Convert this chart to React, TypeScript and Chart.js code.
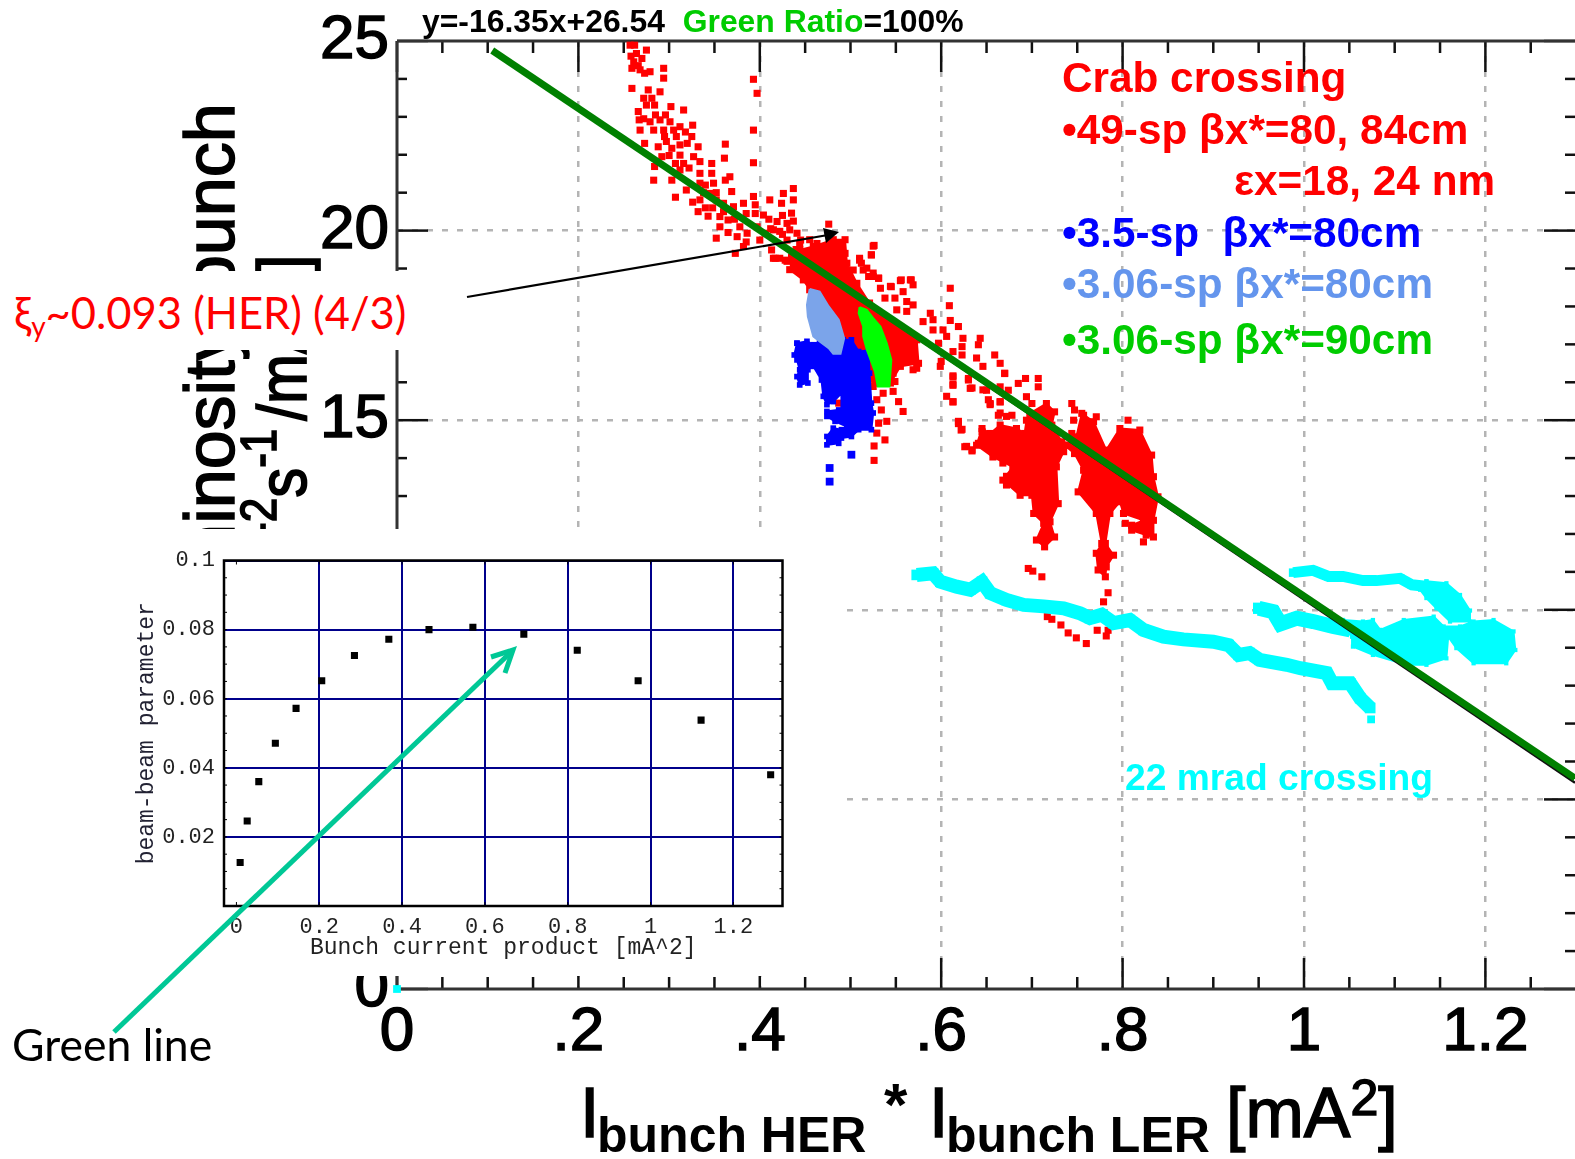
import React, { useEffect, useRef } from "react";
import { Chart, registerables } from "chart.js";

Chart.register(...registerables);

const xMajorTicks = [0, 0.2, 0.4, 0.6, 0.8, 1, 1.2];
const xTickLabels = ["0", ".2", ".4", ".6", ".8", "1", "1.2"];
const xMinorTicks = [0.05, 0.1, 0.15, 0.25, 0.3, 0.35, 0.45, 0.5, 0.55, 0.65, 0.7, 0.75, 0.85, 0.9, 0.95, 1.05, 1.1, 1.15, 1.25];
const yMajorTicks = [0, 5, 10, 15, 20, 25];
const yMinorTicks = [1, 2, 3, 4, 6, 7, 8, 9, 11, 12, 13, 14, 16, 17, 18, 19, 21, 22, 23, 24];

const fitGreen = [[0.105, 24.75], [1.2988, 5.56]];
const fitBlack = [[0.11, 24.66], [1.2988, 5.44]];

const redScatter = [
  [.257,24.89],[.262,24.89],[.264,24.67],[.270,24.54],[.275,24.76],[.261,24.45],[.259,24.28],[.268,24.24],[.279,24.19],[.273,24.15],
  [.294,24.28],[.294,24.02],[.259,23.75],[.277,23.71],[.272,23.49],[.281,23.49],[.290,23.66],[.275,23.31],[.284,23.31],[.266,23.14],
  [.302,23.27],[.316,23.18],[.267,22.92],[.279,22.87],[.290,22.92],[.268,22.65],[.283,22.65],[.301,22.87],[.312,22.74],[.326,22.78],
  [.294,22.65],[.308,22.48],[.273,22.30],[.288,22.21],[.297,22.35],[.303,22.17],[.312,22.26],[.295,22.48],[.325,22.48],[.332,22.21],
  [.362,22.28],[.312,21.99],[.327,21.95],[.361,21.91],[.284,21.69],[.307,21.77],[.316,21.77],[.334,21.82],[.347,21.77],[.283,21.33],
  [.303,21.33],[.312,21.60],[.334,21.51],[.347,21.51],[.367,21.42],[.307,20.88],[.319,21.07],[.334,21.25],[.349,21.25],[.362,21.33],
  [.369,21.03],[.334,20.81],[.345,20.98],[.352,20.81],[.332,20.50],[.343,20.38],[.360,20.72],[.382,20.72],[.393,20.90],[.411,20.81],
  [.426,20.98],[.437,21.11],[.437,20.81],[.424,20.72],[.395,20.68],[.404,20.41],[.419,20.24],[.435,20.46],[.430,20.19],[.371,20.63],
  [.356,20.37],[.356,20.10],[.352,19.80],[.365,20.28],[.378,20.10],[.375,19.84],[.386,19.93],[.373,19.40],[.382,19.58],[.397,20.10],
  [.406,19.93],[.415,20.02],[.433,20.02],[.441,19.93],[.476,20.17],[.415,19.27],[.428,19.22],[.393,23.99],[.397,23.62],[.393,22.65],
  [.393,21.79],[.444,19.66],[.452,19.40],[.463,19.66],[.474,19.58],[.488,19.66],[.494,19.40],[.503,18.96],[.481,19.14],[.459,19.14],
  [.444,18.96],[.437,19.14],[.452,18.79],[.466,18.83],[.510,19.22],[.523,19.36],[.525,19.59],[.514,18.96],[.525,18.79],[.531,18.74],
  [.545,18.52],[.556,18.70],[.567,18.70],
  [.526,19.61],[.523,19.36],[.510,19.27],[.512,19.14],[.518,19.01],[.525,18.88],[.531,18.75],[.520,18.79],[.533,18.48],[.538,18.22],
  [.555,18.68],[.566,18.70],[.569,18.57],[.544,18.53],[.558,18.39],[.549,18.22],[.562,18.13],[.569,18.04],[.551,17.91],[.562,17.87],
  [.610,18.48],[.609,18.02],[.588,17.82],[.580,17.60],[.591,17.65],[.610,17.63],[.619,17.47],[.602,17.38],[.591,17.38],[.606,17.21],
  [.597,17.03],[.624,17.16],[.643,17.16],[.641,16.99],[.623,16.94],[.613,16.81],[.623,16.72],[.639,16.64],[.646,16.42],[.659,16.72],
  [.665,16.50],[.670,16.24],[.600,16.55],[.599,16.42],[.613,16.17],[.613,15.95],[.630,16.06],[.634,15.85],[.606,15.63],[.613,15.49],
  [.646,15.80],[.652,15.54],[.654,15.41],[.665,15.49],[.665,15.19],[.672,15.10],[.619,14.97],[.623,14.76],[.628,14.31],[.634,14.22],
  [.645,14.70],[.650,14.48],[.657,14.22],[.668,13.87],[.641,14.39],[.672,13.52],[.672,13.34],[.573,16.37],[.569,16.33],[.547,16.24],
  [.549,16.02],[.536,15.71],[.547,15.76],[.553,15.49],[.558,15.23],[.529,15.54],[.534,15.27],[.531,14.92],[.540,14.97],[.529,14.66],
  [.538,14.48],[.526,14.32],[.526,13.94],[.487,15.45],[.422,19.27],[.430,19.19],[.417,19.27],[.413,19.49],[.422,19.98],[.455,19.76],
  [.613,16.14],[.613,15.92],[.630,16.10],[.632,15.84],[.650,15.79],[.654,15.44],[.665,15.88],[.665,15.48],[.674,15.79],[.663,15.13],
  [.678,15.13],[.685,15.97],[.694,15.62],[.693,16.10],[.707,16.10],[.707,15.88],[.670,16.23],[.700,15.44],[.613,15.48],[.619,14.91],
  [.622,14.74],[.626,14.30],[.634,14.19],[.744,15.44],[.747,15.27],[.757,15.13],[.746,15.00],[.771,15.09],[.806,15.00],[.744,14.65],
  [.678,13.46],[.672,13.29],[.689,13.11],[.803,12.28],[.823,11.79],[.696,11.09],[.701,11.02],[.711,10.87],[.784,10.45],[.779,10.21],
  [.717,9.82],[.722,9.75],[.732,9.60],[.740,9.39],[.749,9.26],[.760,9.11],[.772,9.46],[.784,9.46],[.782,9.31],
  [.258,24.6],[.266,24.35],[.285,23.05],[.272,22.95],[.296,23.05],[.305,22.65],[.318,22.6],[.32,22.3],[.3,21.98],[.292,21.95],
  [.322,21.65],[.34,21.2],[.352,21.0],[.338,21.0],[.326,20.75],[.34,20.6],[.348,20.6],[.36,20.5],[.372,20.3],[.385,20.45],
  [.395,20.45],[.41,20.3],[.412,20.05],[.425,20.4],[.437,20.25],[.445,19.75],[.385,19.7],[.365,19.95],[.4,19.75],[.425,19.9],
  [.43,19.75],[.44,19.5],[.435,19.3],
];

const redBlobMain = [[.444,19.49],[.459,19.58],[.481,19.76],[.494,19.76],[.496,19.14],[.507,18.61],[.521,18.09],[.536,17.73],[.540,17.65],[.573,17.12],[.575,16.50],[.555,16.42],[.544,15.98],[.525,15.89],[.521,16.24],[.496,17.03],[.455,18.44],[.448,18.70],[.433,18.97]];
const redBlobLeft = [[.698,15.18],[.716,15.44],[.725,15.22],[.722,14.87],[.733,14.43],[.735,14.17],[.727,13.77],[.729,12.80],[.720,12.32],[.725,11.92],[.714,11.66],[.705,11.84],[.713,12.28],[.702,12.54],[.700,13.02],[.687,13.02],[.668,13.42],[.679,13.77],[.657,14.03],[.639,14.34],[.645,14.78],[.654,14.65],[.665,14.87],[.683,14.78],[.692,14.65],[.694,15.00]];
const redBlobRight = [[.736,14.34],[.749,14.56],[.755,15.18],[.768,14.96],[.782,14.21],[.797,14.78],[.819,14.74],[.832,14.08],[.834,13.51],[.839,12.98],[.834,12.36],[.834,11.92],[.826,11.97],[.810,12.10],[.810,12.23],[.823,12.36],[.801,12.54],[.797,12.85],[.786,12.54],[.781,11.75],[.790,11.44],[.782,11.13],[.781,10.87],[.773,11.05],[.771,11.49],[.777,11.75],[.771,12.54],[.751,13.11],[.757,13.68],[.747,14.12]];

const blueBlob = [[.441,17.03],[.452,17.08],[.459,16.99],[.466,17.08],[.477,16.81],[.490,16.77],[.492,17.12],[.501,17.12],[.509,16.81],[.520,16.84],[.521,16.24],[.523,15.45],[.525,15.19],[.523,14.75],[.509,14.75],[.501,14.57],[.490,14.53],[.487,14.39],[.474,14.35],[.474,14.57],[.481,14.79],[.490,14.75],[.496,14.83],[.483,14.97],[.474,15.10],[.474,15.23],[.487,15.27],[.490,15.10],[.490,15.71],[.481,15.49],[.474,15.41],[.470,15.63],[.468,16.06],[.459,16.42],[.453,16.33],[.453,15.98],[.444,15.93],[.441,16.15],[.444,16.33],[.441,16.59],[.438,16.72]];
const blueDots = [[.501,14.09],[.477,13.74],[.477,13.38]];
const lightBlueBlob = [[.455,18.46],[.466,18.39],[.476,18.00],[.487,17.65],[.493,17.16],[.489,16.75],[.481,16.75],[.476,16.90],[.466,17.08],[.459,17.21],[.453,17.73],[.452,18.04]];
const greenBlob = [[.510,17.98],[.518,17.91],[.525,17.69],[.533,17.47],[.540,17.03],[.545,16.59],[.543,15.89],[.530,15.89],[.527,16.28],[.518,16.86],[.514,17.21],[.514,17.47],[.509,17.82]];

const cyanLower = [[.573,10.92],[.591,10.96],[.599,10.74],[.617,10.61],[.632,10.53],[.645,10.74],[.654,10.44],[.672,10.26],[.691,10.13],[.713,10.09],[.735,10.04],[.753,9.91],[.764,9.78],[.777,9.87],[.790,9.65],[.808,9.73],[.823,9.47],[.845,9.29],[.867,9.22],[.900,9.16],[.917,9.07],[.928,8.81],[.940,8.86],[.951,8.68],[.981,8.55],[.996,8.46],[1.025,8.33],[1.031,8.06],[1.051,8.06],[1.062,7.67],[1.073,7.41]];
const cyanUpper = [[.988,10.98],[1.010,11.04],[1.027,10.88],[1.043,10.88],[1.065,10.77],[1.080,10.77],[1.106,10.83],[1.119,10.66],[1.139,10.61]];
const cyanMiddle = [[.950,10.04],[.966,9.95],[.974,9.63],[.992,9.78],[1.010,9.69],[1.032,9.56],[1.051,9.47]];
const cyanBlobTop = [[1.135,10.75],[1.157,10.70],[1.172,10.39],[1.183,9.98],[1.183,9.69],[1.161,9.69],[1.146,10.04],[1.135,10.31],[1.128,10.53]];
const cyanBlobMid = [[1.043,9.73],[1.065,9.69],[1.076,9.73],[1.084,9.47],[1.110,9.73],[1.143,9.82],[1.154,9.56],[1.172,9.56],[1.187,9.69],[1.209,9.73],[1.231,9.43],[1.233,8.94],[1.223,8.59],[1.187,8.59],[1.168,8.99],[1.159,9.29],[1.157,8.72],[1.135,8.55],[1.113,8.55],[1.076,8.81],[1.054,9.03],[1.053,9.29]];
const cyanDots = [[1.074,7.11],[0,0]];

const insetX = [.009,.026,.054,.094,.144,.206,.285,.368,.465,.571,.694,.823,.970,1.122,1.290];
const insetY = [.0126,.0246,.0360,.0471,.0572,.0652,.0725,.0772,.0800,.0807,.0787,.0740,.0652,.0538,.0380];
const insetXTicks = [0, 0.2, 0.4, 0.6, 0.8, 1, 1.2];
const insetXLabels = ["0", "0.2", "0.4", "0.6", "0.8", "1", "1.2"];
const insetYTicks = [0.02, 0.04, 0.06, 0.08, 0.1];
const insetYLabels = ["0.02", "0.04", "0.06", "0.08", "0.1"];
const insetYMinor = [.005,.01,.015,.025,.03,.035,.045,.05,.055,.065,.07,.075,.085,.09,.095];

const toPts = (a: number[][]) => a.map(([x, y]) => ({ x, y }));
const SANS = '"Liberation Sans", Arial, sans-serif';

const dots = (label: string, a: number[][], color: string, r: number) => ({
  label, data: toPts(a), showLine: false, pointStyle: "rect", pointRadius: r,
  backgroundColor: color, borderColor: color, borderWidth: 0, clip: false,
});
const blob = (label: string, a: number[][], color: string, r = 0) => ({
  label, data: toPts([...a, a[0]]), showLine: true, fill: "shape", tension: 0,
  backgroundColor: color, borderColor: color, borderWidth: 2, pointStyle: "rect", pointRadius: r, pointBackgroundColor: color, pointBorderWidth: 0,
});
const band = (label: string, a: number[][], color: string, w: number, r = 0) => ({
  label, data: toPts(a), showLine: true, tension: 0, fill: false,
  borderColor: color, borderWidth: w, pointStyle: "rect", pointRadius: r, pointBackgroundColor: color, pointBorderWidth: 0, borderJoinStyle: "miter",
});
const noYPad = (s: any, width: number) => { s.width = width; s.paddingTop = 0; s.paddingBottom = 0; };
const noXPad = (s: any, height: number) => { s.height = height; s.paddingLeft = 0; s.paddingRight = 0; };

const mainFrame = {
  id: "mainFrame",
  beforeDatasetsDraw(chart: any) {
    const { ctx, chartArea: a, scales } = chart;
    const line = (x1: number, y1: number, x2: number, y2: number) => {
      ctx.beginPath(); ctx.moveTo(x1, y1); ctx.lineTo(x2, y2); ctx.stroke();
    };
    ctx.save();
    ctx.strokeStyle = "#111";
    ctx.lineWidth = 2.5;
    xMajorTicks.forEach((v) => { const p = scales.x.getPixelForValue(v); line(p, a.bottom, p, a.bottom - 31); line(p, a.top, p, a.top + 31); });
    yMajorTicks.forEach((v) => { const p = scales.y.getPixelForValue(v); line(a.left, p, a.left + 31, p); line(a.right, p, a.right - 31, p); });
    xMinorTicks.forEach((v) => { const p = scales.x.getPixelForValue(v); line(p, a.bottom, p, a.bottom - 12); line(p, a.top, p, a.top + 12); });
    yMinorTicks.forEach((v) => { const p = scales.y.getPixelForValue(v); line(a.left, p, a.left + 10, p); line(a.right, p, a.right - 10, p); });
    ctx.lineWidth = 3;
    ctx.strokeStyle = "#333";
    line(a.left, a.top, a.right, a.top);
    line(a.left, a.top, a.left, a.bottom);
    line(a.left, a.bottom, a.right, a.bottom);
    ctx.restore();
  },
};

const insetFrame = {
  id: "insetFrame",
  afterDatasetsDraw(chart: any) {
    const { ctx, chartArea: a, scales } = chart;
    ctx.save();
    ctx.strokeStyle = "#000";
    ctx.lineWidth = 1;
    [...insetYMinor, ...insetYTicks].forEach((v) => {
      const p = scales.y.getPixelForValue(v);
      ctx.beginPath(); ctx.moveTo(a.left, p); ctx.lineTo(a.left + 3, p); ctx.moveTo(a.right, p); ctx.lineTo(a.right - 3, p); ctx.stroke();
    });
    insetXTicks.forEach((v) => {
      const p = scales.x.getPixelForValue(v);
      ctx.beginPath(); ctx.moveTo(p, a.top); ctx.lineTo(p, a.top + 4); ctx.moveTo(p, a.bottom); ctx.lineTo(p, a.bottom - 4); ctx.stroke();
    });
    ctx.lineWidth = 2.5;
    ctx.strokeRect(a.left, a.top, a.right - a.left, a.bottom - a.top);
    ctx.restore();
  },
};

const Txt = ({ x, y, size, color = "#000", weight = 700, family = SANS, stroke = 0, children }: any) => (
  <div style={{ position: "absolute", left: x, top: y, transform: "translateY(-50%)", fontFamily: family, fontSize: size, fontWeight: weight, color, whiteSpace: "pre", lineHeight: 1, WebkitTextStroke: stroke ? `${stroke}px ${color}` : undefined }}>
    {children}
  </div>
);
const Mask = ({ x, y, w, h }: any) => (
  <div style={{ position: "absolute", left: x, top: y, width: w, height: h, background: "#fff" }} />
);
const Sup = ({ gap = 0, children }: any) => (
  <span style={{ display: "inline-block", fontSize: 44, position: "relative", top: -26, lineHeight: 0, marginRight: gap }}>{children}</span>
);

export default function App() {
  const mainRef = useRef<HTMLCanvasElement>(null);
  const insetRef = useRef<HTMLCanvasElement>(null);

  useEffect(() => {
    const main = new Chart(mainRef.current!, {
      type: "scatter",
      plugins: [mainFrame],
      data: {
        datasets: [
          band("Fit green", fitGreen, "#008000", 7),
          band("Fit black", fitBlack, "#111", 2.5),
          blob("3.06-sp 90cm", greenBlob, "#00ff00"),
          blob("3.06-sp 80cm", lightBlueBlob, "#7ba4ea"),
          blob("3.5-sp 80cm", blueBlob, "#0000ff", 4),
          dots("3.5-sp dots", blueDots, "#0000ff", 5.5),
          dots("22 mrad dots", cyanDots, "#00ffff", 5.5),
          band("22 mrad lower", cyanLower, "#00ffff", 14, 7.5),
          band("22 mrad upper", cyanUpper, "#00ffff", 11, 6),
          band("22 mrad middle", cyanMiddle, "#00ffff", 15, 8),
          blob("22 mrad top", cyanBlobTop, "#00ffff", 3),
          blob("22 mrad mid", cyanBlobMid, "#00ffff", 3),
          blob("Crab main", redBlobMain, "#ff0000", 5),
          blob("Crab left", redBlobLeft, "#ff0000", 5),
          blob("Crab right", redBlobRight, "#ff0000", 5),
          dots("Crab scatter", redScatter, "#ff0000", 5),
        ] as any,
      },
      options: {
        animation: false,
        responsive: false,
        layout: { autoPadding: false, padding: { top: 41, left: 0, right: 0, bottom: 0 } },
        plugins: { legend: { display: false }, tooltip: { enabled: false } },
        scales: {
          x: {
            type: "linear", min: 0, max: 1.2988,
            afterFit: (s: any) => noXPad(s, 170),
            afterBuildTicks: (s: any) => { s.ticks = xMajorTicks.map((value) => ({ value })); },
            border: { display: false, dash: [6, 9] },
            grid: { drawTicks: false, color: (c: any) => (c.tick && c.tick.value === 0 ? "transparent" : "#b4b4b4"), lineWidth: 2.5 } as any,
            ticks: {
              autoSkip: false, maxRotation: 0, padding: 7, color: "#000", textStrokeColor: "#000", textStrokeWidth: 1.5,
              font: { family: "Liberation Sans", size: 62 },
              callback: (v: any) => xTickLabels[xMajorTicks.indexOf(v)],
            },
          },
          y: {
            type: "linear", min: 0, max: 25,
            afterFit: (s: any) => noYPad(s, 397),
            afterBuildTicks: (s: any) => { s.ticks = yMajorTicks.map((value) => ({ value })); },
            border: { display: false, dash: [6, 9] },
            grid: { drawTicks: false, color: (c: any) => (c.tick && (c.tick.value === 0 || c.tick.value === 25) ? "transparent" : "#b4b4b4"), lineWidth: 2.5 } as any,
            ticks: {
              autoSkip: false, padding: 8, color: "#000", textStrokeColor: "#000", textStrokeWidth: 1.5,
              font: { family: "Liberation Sans", size: 62 },
              callback: (v: any) => String(v),
            },
          },
        },
      } as any,
    });

    const inset = new Chart(insetRef.current!, {
      type: "scatter",
      plugins: [insetFrame],
      data: {
        datasets: [{
          label: "beam-beam",
          data: insetX.map((x, i) => ({ x, y: insetY[i] })),
          pointStyle: "rect", pointRadius: 5, backgroundColor: "#000", borderWidth: 0,
        }],
      },
      options: {
        animation: false,
        responsive: false,
        layout: { autoPadding: false, padding: { top: 15.5, left: 0, right: 17.5, bottom: 0 } },
        plugins: { legend: { display: false }, tooltip: { enabled: false } },
        scales: {
          x: {
            type: "linear", min: -0.03, max: 1.3186,
            afterFit: (s: any) => noXPad(s, 59),
            afterBuildTicks: (s: any) => { s.ticks = insetXTicks.map((value) => ({ value })); },
            border: { display: false },
            grid: { drawTicks: false, color: (c: any) => (c.tick && c.tick.value === 0 ? "transparent" : "#00008b"), lineWidth: 2 },
            title: { display: true, text: "Bunch current product [mA^2]", color: "#222", padding: 3, font: { family: "Liberation Mono", size: 23 } },
            ticks: { autoSkip: false, maxRotation: 0, padding: 8, color: "#222", font: { family: "Liberation Mono", size: 22 }, callback: (v: any) => insetXLabels[insetXTicks.indexOf(v)] },
          },
          y: {
            type: "linear", min: 0, max: 0.1,
            afterFit: (s: any) => noYPad(s, 94),
            afterBuildTicks: (s: any) => { s.ticks = insetYTicks.map((value) => ({ value })); },
            border: { display: false },
            grid: { drawTicks: false, color: "#00008b", lineWidth: 2 },
            title: { display: true, text: "beam-beam parameter", color: "#223", padding: 3, font: { family: "Liberation Mono", size: 23 } },
            ticks: { autoSkip: false, padding: 9, color: "#222", font: { family: "Liberation Mono", size: 22 }, callback: (v: any) => insetYLabels[insetYTicks.indexOf(v)] },
          },
        },
      } as any,
    });
    return () => { main.destroy(); inset.destroy(); };
  }, []);

  return (
    <div style={{ position: "absolute", left: 0, top: 0, width: 1575, height: 1159, overflow: "hidden", background: "#fff" }}>
      <canvas ref={mainRef} width={1575} height={1159} style={{ position: "absolute", left: 0, top: 0 }} />

      <div style={{ position: "absolute", left: 175, top: 660, transformOrigin: "0 0", transform: "rotate(-90deg)", fontFamily: SANS, fontSize: 70, lineHeight: 1, whiteSpace: "pre", wordSpacing: -13.5, WebkitTextStroke: "1.5px #000" }}>
        Luminosity / bunch
      </div>
      <div style={{ position: "absolute", left: 248, top: 766, transformOrigin: "0 0", transform: "rotate(-90deg) scale(1,1.15)", fontFamily: SANS, fontSize: 60, lineHeight: 1, whiteSpace: "pre", WebkitTextStroke: "1.5px #000" }}>
        [10<Sup>30</Sup> cm<Sup>-2</Sup>s<Sup gap={8}>-1</Sup>/mA<Sup>2</Sup><span style={{ marginLeft: 18 }}>]</span>
      </div>

      <Mask x={0} y={271} w={467} h={79} />
      <Mask x={0} y={529} w={842} h={447} />

      <canvas ref={insetRef} width={670} height={420} style={{ position: "absolute", left: 130, top: 545 }} />

      <Txt x={422} y={22} size={31.9}>y=-16.35x+26.54  <span style={{ color: "#00cc00" }}>Green Ratio</span>=100%</Txt>
      <Txt x={1062} y={78} size={42.3} color="#ff0000">Crab crossing</Txt>
      <Txt x={1062} y={130} size={42.3} color="#ff0000">•49-sp βx*=80, 84cm</Txt>
      <Txt x={1234} y={181} size={42.3} color="#ff0000">εx=18, 24 nm</Txt>
      <Txt x={1062} y={233} size={42.3} color="#0000ff">•3.5-sp  βx*=80cm</Txt>
      <Txt x={1062} y={284} size={42.3} color="#6495ed">•3.06-sp βx*=80cm</Txt>
      <Txt x={1062} y={340} size={42.3} color="#00cc00">•3.06-sp βx*=90cm</Txt>
      <Txt x={1125} y={778} size={37.2} color="#00ffff">22 mrad crossing</Txt>
      <Txt x={14} y={313} size={43.5} weight={400} family="Lato, sans-serif" color="#ff0000">
        ξ<sub style={{ fontSize: 28, verticalAlign: "-8px", lineHeight: 0 }}>y</sub>~0.093 (HER) (4/3)
      </Txt>
      <Txt x={12} y={1044} size={44.5} weight={400} family="Lato, sans-serif">Green line</Txt>

      <Txt x={580} y={1113} size={70} weight={400} stroke={1.5}>I</Txt>
      <Txt x={597} y={1135} size={50}>bunch HER</Txt>
      <Txt x={884} y={1105} size={60}>*</Txt>
      <Txt x={929} y={1113} size={70} weight={400} stroke={1.5}>I</Txt>
      <Txt x={946} y={1135} size={50}>bunch LER</Txt>
      <Txt x={1226} y={1113} size={70} weight={400} stroke={1.5}>
        [mA<span style={{ fontSize: 50, position: "relative", top: -22 }}>2</span>]
      </Txt>

      <svg width={1575} height={1159} style={{ position: "absolute", left: 0, top: 0, pointerEvents: "none" }}>
        <line x1={467} y1={297} x2={828} y2={235} stroke="#000" strokeWidth={2.2} />
        <polygon points="839,232 823,228 826,243" fill="#000" />
        <line x1={114} y1={1032} x2={511} y2={652} stroke="#00c896" strokeWidth={5} />
        <polyline points="491,657 513,650 505,673" fill="none" stroke="#00c896" strokeWidth={5} />
      </svg>
    </div>
  );
}
